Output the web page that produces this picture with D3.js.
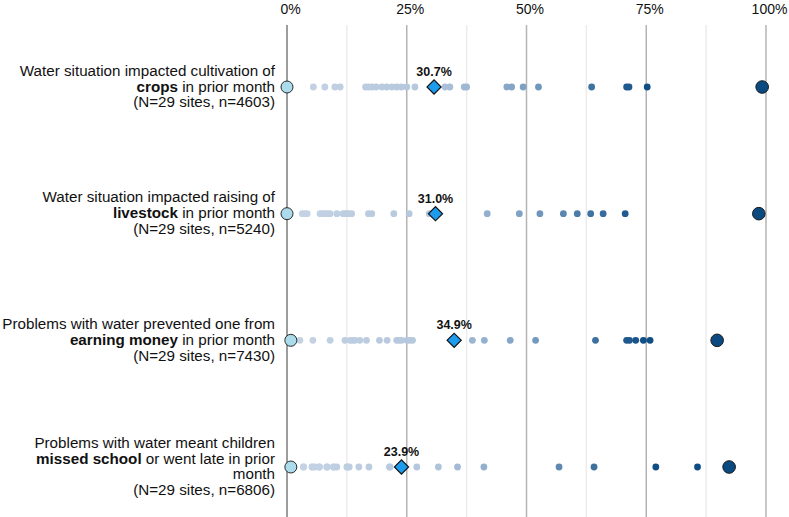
<!DOCTYPE html>
<html>
<head>
<meta charset="utf-8">
<script src="https://cdn.jsdelivr.net/npm/d3@7"></script>
<style>
  html, body { margin: 0; padding: 0; background: #fff; }
  svg { display: block; font-family: "Liberation Sans", Arial, sans-serif; }
</style>
</head>
<body>
<svg id="chart" width="789" height="517"></svg>
<script>
// ── Data ────────────────────────────────────────────────────────────────
const categories = ['crops', 'livestock', 'earning', 'school'];

// label lines, each line is a list of [text, bold]
const labelLines = [
  [[['Water situation impacted cultivation of', false]],
   [['crops', true], [' in prior month', false]],
   [['(N=29 sites, n=4603)', false]]],
  [[['Water situation impacted raising of', false]],
   [['livestock', true], [' in prior month', false]],
   [['(N=29 sites, n=5240)', false]]],
  [[['Problems with water prevented one from', false]],
   [['earning money', true], [' in prior month', false]],
   [['(N=29 sites, n=7430)', false]]],
  [[['Problems with water meant children', false]],
   [['missed school', true], [' or went late in prior', false]],
   [['month', false]],
   [['(N=29 sites, n=6806)', false]]]
];

// per-site percentages (29 sites each)
const cropsSites = [0, 5.5, 7.9, 10.0, 11.1, 16.4, 17.0, 17.7, 18.6, 19.8, 20.8, 21.9, 22.9, 23.9,
  25.0, 26.7, 33.0, 34.0, 37.0, 37.5, 45.9, 46.9, 49.3, 52.5, 63.6, 70.9, 71.4, 75.2, 99.2];
const livestockSites = [0, 3.2, 3.7, 4.2, 6.9, 7.4, 7.9, 8.5, 9.0, 10.4, 11.7, 12.2, 12.5, 12.9,
  13.5, 17.0, 17.7, 22.3, 25.5, 29.7, 41.8, 48.5, 52.8, 57.7, 60.6, 63.4, 66.0, 70.6, 98.5];
const earningSites = [0.8, 2.7, 5.4, 9.0, 12.1, 13.2, 13.7, 14.2, 15.2, 16.6, 19.3, 20.9, 22.9, 23.4,
  23.9, 25.0, 25.6, 26.2, 38.7, 41.2, 46.6, 51.9, 64.4, 70.9, 71.5, 72.8, 74.4, 75.8, 89.8];
const schoolSites = [0.8, 3.4, 3.5, 5.2, 5.3, 5.8, 6.7, 6.8, 8.3, 8.4, 9.7, 9.8, 10.4, 12.5,
  12.6, 13.0, 15.0, 17.1, 21.4, 21.5, 27.1, 31.6, 35.6, 41.1, 56.8, 64.1, 77.0, 85.7, 92.3];
const siteValues = [cropsSites, livestockSites, earningSites, schoolSites];

// overall (pooled) percentage per row
const overall = [30.7, 31.0, 34.9, 23.9];

const majorTicks = [0, 25, 50, 75, 100];
const minorTicks = [12.5, 37.5, 62.5, 87.5];

// ── Setup ───────────────────────────────────────────────────────────────
const svg = d3.select('#chart');
const H = 517;

const x = d3.scaleLinear().domain([0, 100]).range([287, 766]);
const y = d3.scalePoint().domain(categories).range([87, 467]);

const dotColor = d3.scaleLinear()
  .domain([0, 30, 50, 75, 100])
  .range(['#c6d4e5', '#b3c6dc', '#7b9fc4', '#0f4d84', '#0b4a80']);

// ── Grid + axis ─────────────────────────────────────────────────────────
const grid = svg.append('g');
grid.selectAll('line.minor')
  .data(minorTicks)
  .join('line')
  .attr('class', 'minor')
  .attr('x1', d => x(d)).attr('x2', d => x(d))
  .attr('y1', 25).attr('y2', H)
  .attr('stroke', '#ececec').attr('stroke-width', 1.5);

grid.selectAll('line.major')
  .data(majorTicks)
  .join('line')
  .attr('class', 'major')
  .attr('x1', d => x(d)).attr('x2', d => x(d))
  .attr('y1', 25).attr('y2', H)
  .attr('stroke', d => d === 0 ? '#3a3a3a' : '#b4b4b4')
  .attr('stroke-width', d => d === 0 ? 1 : 1.5);

const xAxis = d3.axisTop(x)
  .tickValues(majorTicks)
  .tickFormat(d => d + '%')
  .tickSize(0)
  .tickPadding(0);

svg.append('g')
  .attr('transform', 'translate(3,14)')
  .call(xAxis)
  .call(g => g.select('.domain').remove())
  .call(g => g.selectAll('text')
    .attr('font-size', 14)
    .attr('fill', '#111')
    .attr('font-family', '"Liberation Sans", Arial, sans-serif')
    .attr('dy', 0));

// ── Row labels ──────────────────────────────────────────────────────────
const lineH = 15.8;
categories.forEach((c, i) => {
  const lines = labelLines[i];
  const n = lines.length;
  const t = svg.append('text')
    .attr('text-anchor', 'end')
    .attr('font-size', 15.2)
    .attr('fill', '#111');
  lines.forEach((parts, j) => {
    parts.forEach((p, k) => {
      const ts = t.append('tspan').text(p[0])
        .attr('font-weight', p[1] ? 'bold' : 'normal');
      if (k === 0) {
        ts.attr('x', 275)
          .attr('y', y(c) + 4.5 + (j - (n - 1) / 2) * lineH);
      }
    });
  });
});

// ── Dots ────────────────────────────────────────────────────────────────
categories.forEach((c, i) => {
  const vals = siteValues[i];
  const lo = d3.min(vals), hi = d3.max(vals);
  const mids = vals.filter(v => v !== lo && v !== hi);
  const g = svg.append('g');

  g.selectAll('circle.site')
    .data(mids)
    .join('circle')
    .attr('class', 'site')
    .attr('cx', d => x(d))
    .attr('cy', y(c))
    .attr('r', 3.4)
    .attr('fill', d => dotColor(d));

  g.append('circle')
    .attr('cx', x(lo)).attr('cy', y(c)).attr('r', 6)
    .attr('fill', '#acdcec').attr('stroke', '#2a2a2a').attr('stroke-width', 1);

  g.append('circle')
    .attr('cx', x(hi)).attr('cy', y(c)).attr('r', 6.3)
    .attr('fill', '#0b4a80').attr('stroke', '#1a1a1a').attr('stroke-width', 1);

  g.append('path')
    .attr('d', d3.symbol(d3.symbolSquare, 100)())
    .attr('transform', `translate(${x(overall[i])},${y(c)}) rotate(45)`)
    .attr('fill', '#1d9cee').attr('stroke', '#111').attr('stroke-width', 1.2);

  g.append('text')
    .attr('x', x(overall[i]))
    .attr('y', y(c) - 11)
    .attr('text-anchor', 'middle')
    .attr('font-size', 12.5)
    .attr('font-weight', 'bold')
    .attr('fill', '#111')
    .text(overall[i].toFixed(1) + '%');
});
</script>
</body>
</html>
